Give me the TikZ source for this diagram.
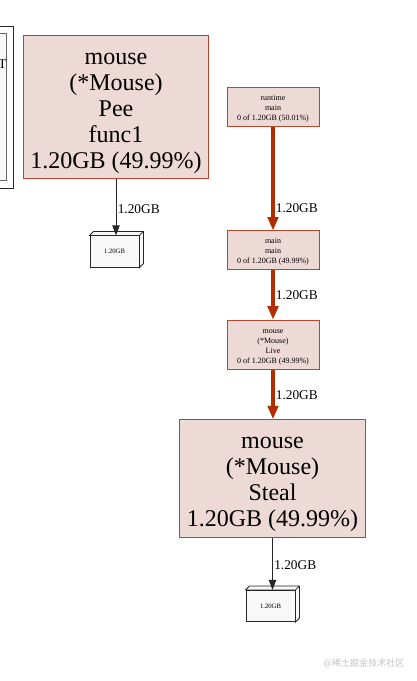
\documentclass[tikz,border=0pt]{standalone}
\usepackage{fontspec}
\setmainfont{Liberation Serif}
\newfontfamily\cjk{Noto Sans CJK SC}
\usepackage{xcolor}
\usetikzlibrary{positioning,arrows.meta,calc}
\definecolor{nodefill}{HTML}{EDD9D5}
\definecolor{nodeline}{HTML}{B5462B}
\definecolor{hotedge}{HTML}{B22E00}
\definecolor{cubefill}{HTML}{F8F8F8}
\definecolor{mark}{HTML}{C4C4C4}
\newcommand{\fnlines}[2]{\begin{tabular}{@{}c@{}}\rule{0pt}{#1}#2\end{tabular}}

\begin{document}
\begin{tikzpicture}[
  x=0.75pt,y=-0.75pt,
  fn/.style={draw=nodeline,fill=nodefill,line width=0.75pt,inner sep=2pt},
  fnbig/.style={fn,font=\fontsize{18}{19.5}\selectfont,minimum width=139pt,minimum height=86pt},
  fnsmall/.style={fn,font=\fontsize{6}{7.5}\selectfont,minimum width=69pt},
  cube/.style={draw=black!85,fill=cubefill,line width=0.6pt,minimum width=36.75pt,minimum height=23.5pt,font=\fontsize{5}{6}\selectfont,inner sep=0pt},
  hot/.style={-{Triangle[length=10pt,width=8pt]},line width=2.3pt,draw=hotedge},
  cold/.style={-{Triangle[length=7.5pt,width=5.5pt]},line width=0.7pt,draw=black!85},
  lbl/.style={right,inner sep=1pt,font=\fontsize{10}{12}\selectfont}]
  \clip (0,0) rectangle (417,681);
  \fill[white] (0,0) rectangle (417,681);

  % legend, cut off at the left edge
  \node[draw=black!85,fill=white,line width=0.75pt,minimum width=24.75pt,minimum height=120.75pt] (legend) at (-3.5,107.5) {};
  \node[draw=black!60,fill=cubefill,minimum width=19.5pt,minimum height=110.25pt] (legend-in) at (-7,106.5) {};
  \node[font=\fontsize{10}{12}\selectfont,inner sep=0pt] (legend-t) at (2.5,64) {T};

  \node[fnbig,minimum height=105pt] (pee) at (116,107) {\fnlines{20pt}{mouse\\(*Mouse)\\Pee\\func1\\1.20GB (49.99\%)}};
  \node[cube] (pee-out) at (114.5,251.5) {1.20GB};

  \node[fnsmall,minimum height=29.25pt] (runtime) at (273,107.5) {\fnlines{7.5pt}{runtime\\main\\0 of 1.20GB (50.01\%)}};
  \node[fnsmall,minimum height=28.5pt] (mainmain) at (273,250) {\fnlines{7.5pt}{main\\main\\0 of 1.20GB (49.99\%)}};
  \node[fnsmall,minimum height=36.75pt] (live) at (273,344.5) {\fnlines{8pt}{mouse\\(*Mouse)\\Live\\0 of 1.20GB (49.99\%)}};
  \node[fnbig,minimum height=86.25pt] (steal) at (272.5,478.5) {\fnlines{20pt}{mouse\\(*Mouse)\\Steal\\1.20GB (49.99\%)}};
  \node[cube] (steal-out) at (270.5,606) {1.20GB};

  % depth of the two output boxes
  \foreach \c in {pee-out,steal-out}
    \draw[black!85,fill=cubefill,line width=0.6pt] (\c.north west) -- ++(4,-4) -- ([shift={(4,-4)}]\c.north east) -- ([shift={(4,-4)}]\c.south east) -- (\c.south east) -- (\c.north east) -- cycle (\c.north east) -- ++(4,-4);

  \draw[cold] (pee.south) -- node[lbl,pos=0.53]{1.20GB} (pee.south |- pee-out.north);
  \draw[hot] (runtime.south) -- node[lbl,pos=0.78]{1.20GB} (mainmain.north);
  \draw[hot] (mainmain.south) -- node[lbl,pos=0.52]{1.20GB} (live.north);
  \draw[hot] (live.south) -- node[lbl,pos=0.52]{1.20GB} (live.south |- steal.north);
  \draw[cold] (steal.south) -- node[lbl,pos=0.52]{1.20GB} (steal.south |- steal-out.north);

  \node[font=\cjk\fontsize{6.8}{8}\selectfont,text=mark,inner sep=0pt] (mark) at (364,663) {@稀土掘金技术社区};
\end{tikzpicture}
\end{document}
